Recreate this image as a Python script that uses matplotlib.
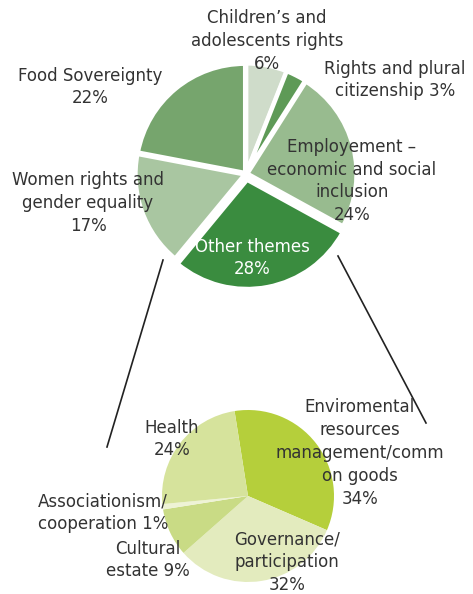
import matplotlib.pyplot as plt

# Top pie: thematic areas
top_labels = ["Children\u2019s and\nadolescents rights\n6%", "Rights and plural\ncitizenship 3%",
              "Employement \u2013\neconomic and social\ninclusion\n24%", "Other themes\n28%",
              "Women rights and\ngender equality\n17%", "Food Sovereignty\n22%"]
top_values = [6, 3, 24, 28, 17, 22]
top_colors = ["#cfdcca", "#5e9a57", "#98bb8f", "#3a8c3f", "#a9c6a1", "#76a56d"]

# Bottom pie: breakdown of "Other themes"
bottom_labels = ["Enviromental\nresources\nmanagement/comm\non goods\n34%", "Governance/\nparticipation\n32%",
                 "Cultural\nestate 9%", "Associationism/\ncooperation 1%", "Health\n24%"]
bottom_values = [34, 32, 9, 1, 24]
bottom_colors = ["#b5cf3b", "#e3ebbe", "#c9db85", "#eef3d6", "#d6e39c"]

W, H = 473, 594
fig = plt.figure(figsize=(W / 100, H / 100), dpi=100)
ax = fig.add_axes([0, 0, 1, 1])

# pixel coords in the picture -> data coords (y up)
def P(x, y):
    return (x, H - y)

# explode is an absolute offset in data units (= pixels here)
top_explode = [6 if lab.startswith("Other") else 1.5 for lab in top_labels]
ax.pie(top_values, colors=top_colors, startangle=90, counterclock=False,
       center=P(246, 174), radius=109, explode=top_explode,
       wedgeprops=dict(edgecolor="white", linewidth=3))

ax.pie(bottom_values, colors=bottom_colors, startangle=99, counterclock=False,
       center=P(248, 496), radius=86, wedgeprops=dict(edgecolor="none"))

# connector lines
for (x0, y0), (x1, y1) in [((163, 260), (107, 447)), ((338, 256), (426, 423))]:
    ax.plot([x0, x1], [H - y0, H - y1], color="#222222", lw=1.2)

top_pos = [(267, 41), (395, 80), (352, 181), (252, 258), (88, 203), (90, 87)]
bottom_pos = [(360, 453), (287, 562), (148, 560), (103, 513), (172, 439)]

txt = dict(ha="center", va="center", fontsize=12, linespacing=1.35, family="DejaVu Sans")
for lab, (x, y) in zip(top_labels, top_pos):
    col = "white" if lab.startswith("Other") else "#333333"
    ax.text(*P(x, y), lab, color=col, **txt)
for lab, (x, y) in zip(bottom_labels, bottom_pos):
    ax.text(*P(x, y), lab, color="#333333", **txt)

ax.set_xlim(0, W)
ax.set_ylim(0, H)
ax.set_aspect("equal")
ax.axis("off")

fig.savefig("out.png", dpi=100)
